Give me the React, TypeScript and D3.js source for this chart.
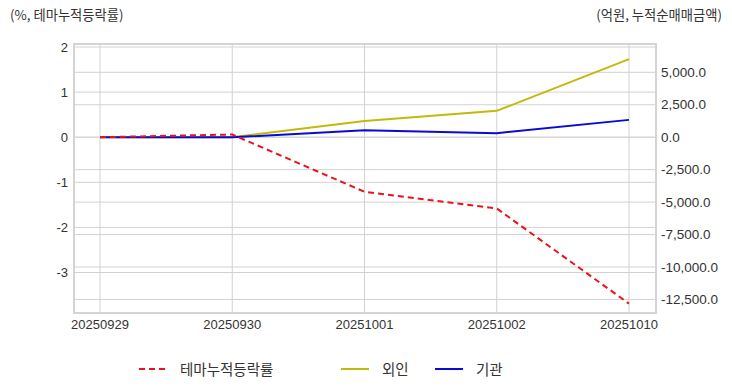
import React, { useRef, useEffect } from "react";
import * as d3 from "d3";

// 날짜 / 시리즈 값
const dates = ["20250929", "20250930", "20251001", "20251002", "20251010"];
const themeReturn = [0, 0.06, -1.21, -1.58, -3.69]; // % (left axis)
const foreign = [0, 0, 1250, 2030, 6020]; // 억원 (right axis)
const institution = [0, -10, 540, 310, 1335]; // 억원 (right axis)

const leftTicks = [2, 1, 0, -1, -2, -3];
const rightTicks = [5000, 2500, 0, -2500, -5000, -7500, -10000, -12500];

const W = 732, H = 392;
const KR = "'Noto Sans CJK KR', 'Liberation Sans', sans-serif";
const NUM = "'Liberation Sans', Arial, sans-serif";

export default function App() {
  const ref = useRef<SVGSVGElement>(null);

  useEffect(() => {
    const svg = d3.select(ref.current);
    svg.selectAll("*").remove();

    const left = 74, right = 656, top = 44, bottom = 313;

    const x = d3.scalePoint<string>().domain(dates).range([100, 629]);
    const yL = d3.scaleLinear().domain([-3.898, 2.067]).range([bottom, top]);
    const yR = d3.scaleLinear().domain([-13544, 7181]).range([bottom, top]);

    const grid = "#d2d2d2";

    // 가로 그리드 (좌/우 축 모두)
    leftTicks.forEach((t) => {
      svg.append("line")
        .attr("x1", left).attr("x2", right)
        .attr("y1", yL(t)).attr("y2", yL(t))
        .attr("stroke", grid).attr("stroke-width", 1);
    });
    rightTicks.forEach((t) => {
      svg.append("line")
        .attr("x1", left).attr("x2", right)
        .attr("y1", yR(t)).attr("y2", yR(t))
        .attr("stroke", grid).attr("stroke-width", 1);
    });
    // 세로 그리드
    dates.forEach((d) => {
      svg.append("line")
        .attr("x1", x(d)!).attr("x2", x(d)!)
        .attr("y1", top).attr("y2", bottom)
        .attr("stroke", grid).attr("stroke-width", 1);
    });
    // 프레임
    svg.append("rect")
      .attr("x", left).attr("y", top)
      .attr("width", right - left).attr("height", bottom - top)
      .attr("fill", "none").attr("stroke", "#d4d4d4").attr("stroke-width", 2);

    // 축 라벨
    leftTicks.forEach((t) => {
      svg.append("text")
        .attr("x", 68).attr("y", yL(t) + 4.5)
        .attr("text-anchor", "end")
        .attr("font-family", NUM).attr("font-size", 13).attr("fill", "#333")
        .text(t);
    });
    const fmt = d3.format(",.1f");
    rightTicks.forEach((t) => {
      svg.append("text")
        .attr("x", 661).attr("y", yR(t) + 4.5)
        .attr("text-anchor", "start")
        .attr("font-family", NUM).attr("font-size", 13.5).attr("fill", "#333")
        .text(fmt(t).replace("−", "-"));
    });
    dates.forEach((d) => {
      svg.append("text")
        .attr("x", x(d)!).attr("y", 329)
        .attr("text-anchor", "middle")
        .attr("font-family", NUM).attr("font-size", 13).attr("fill", "#333")
        .text(d);
    });

    // 축 제목
    svg.append("text")
      .attr("x", 10).attr("y", 20)
      .attr("font-family", KR).attr("font-size", 13.3).attr("fill", "#333")
      .text("(%, 테마누적등락률)");
    svg.append("text")
      .attr("x", 722).attr("y", 20)
      .attr("text-anchor", "end")
      .attr("font-family", KR).attr("font-size", 13.3).attr("fill", "#333")
      .text("(억원, 누적순매매금액)");

    // 선
    const lineL = d3.line<number>().x((_, i) => x(dates[i])!).y((v) => yL(v));
    const lineR = d3.line<number>().x((_, i) => x(dates[i])!).y((v) => yR(v));

    svg.append("path").datum(foreign)
      .attr("d", lineR).attr("fill", "none")
      .attr("stroke", "#c2b90c").attr("stroke-width", 2);
    svg.append("path").datum(institution)
      .attr("d", lineR).attr("fill", "none")
      .attr("stroke", "#0a0ad6").attr("stroke-width", 2);
    svg.append("path").datum(themeReturn)
      .attr("d", lineL).attr("fill", "none")
      .attr("stroke", "#e8141c").attr("stroke-width", 2)
      .attr("stroke-dasharray", "6,4");

    // 범례
    const legend = [
      { label: "테마누적등락률", color: "#e8141c", dash: "6,4", x: 139 },
      { label: "외인", color: "#c2b90c", dash: null, x: 341 },
      { label: "기관", color: "#0a0ad6", dash: null, x: 435 },
    ];
    legend.forEach((l) => {
      svg.append("line")
        .attr("x1", l.x).attr("x2", l.x + 28)
        .attr("y1", 369).attr("y2", 369)
        .attr("stroke", l.color).attr("stroke-width", 2)
        .attr("stroke-dasharray", l.dash);
      svg.append("text")
        .attr("x", l.x + 41).attr("y", 374.5)
        .attr("font-family", KR).attr("font-size", 14.5).attr("fill", "#333")
        .text(l.label);
    });
  }, []);

  return (
    <svg ref={ref} width={W} height={H}
      style={{ position: "absolute", left: 0, top: 0, background: "#fff" }} />
  );
}
